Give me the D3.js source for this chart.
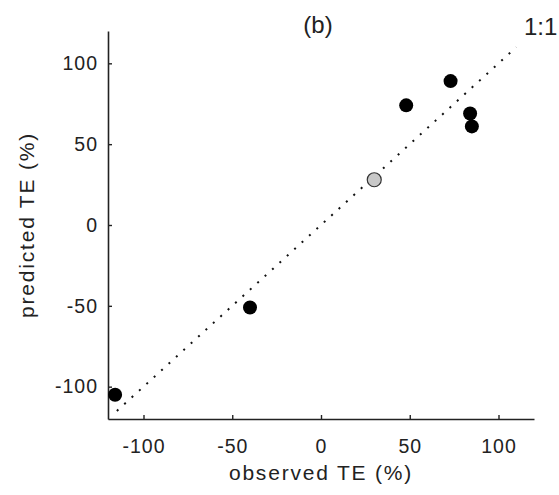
<!DOCTYPE html>
<html lang="en">
  <head>
    <meta charset="utf-8">
    <title>predicted vs observed TE</title>
    <script src="https://cdn.jsdelivr.net/npm/d3@7/dist/d3.min.js"></script>
    <style>
      body { margin: 0; background: #fff; }
      text { font-family: "Liberation Sans", Arial, sans-serif; fill: #222; }
    </style>
  </head>
  <body>
    <div id="chart"></div>
  </body>
</html>

<script>

// observed vs predicted TE (%)
const observed  = [-116, -40, 30, 48, 73, 84, 85];
const predicted = [-105, -51, 28, 74, 89, 69, 61];
const isGray    = [false, false, true, false, false, false, false];
const tickVals  = [-100, -50, 0, 50, 100];
const oneToOne  = [-115, 110];

const width = 559;
const height = 495;
const margin = {top: 31, right: 25, bottom: 76, left: 108};

const svg = d3.select("#chart")
  .append("svg")
  .attr("width", width)
  .attr("height", height);

const x = d3.scaleLinear()
  .domain([-120, 120])
  .range([margin.left, width - margin.right]);

const y = d3.scaleLinear()
  .domain([-120, 120])
  .range([height - margin.bottom, margin.top]);

// plain hyphen for negatives, like the original
const fmt = d => String(d);

// axes (ticks point inward)
const xAxis = svg.append("g")
  .attr("transform", `translate(0, ${y(-120)})`)
  .call(d3.axisBottom(x).tickValues(tickVals).tickFormat(fmt).tickSize(-4).tickPadding(20).tickSizeOuter(0));

const yAxis = svg.append("g")
  .attr("transform", `translate(${x(-120)}, 0)`)
  .call(d3.axisLeft(y).tickValues(tickVals).tickFormat(fmt).tickSize(-4).tickPadding(10).tickSizeOuter(0));

[xAxis, yAxis].forEach(g => {
  g.select(".domain").attr("stroke", "#222").attr("stroke-width", 1.6);
  g.selectAll(".tick line").attr("stroke", "#222").attr("stroke-width", 1.4);
  g.selectAll(".tick text")
    .style("font-size", "19.5px")
    .style("letter-spacing", "1px")
    .attr("fill", "#222");
});

// 1:1 line
svg.append("line")
  .attr("x1", x(oneToOne[0]))
  .attr("y1", y(oneToOne[0]))
  .attr("x2", x(oneToOne[1]))
  .attr("y2", y(oneToOne[1]))
  .attr("stroke", "#111")
  .attr("stroke-width", 2)
  .attr("stroke-dasharray", "2,8");

// points
svg.selectAll(".pt")
  .data(d3.range(observed.length))
  .join("circle")
  .attr("class", "pt")
  .attr("cx", i => x(observed[i]))
  .attr("cy", i => y(predicted[i]))
  .attr("r", 7)
  .attr("fill", i => isGray[i] ? "#c8c8c8" : "#000")
  .attr("stroke", i => isGray[i] ? "#333" : "#000")
  .attr("stroke-width", i => isGray[i] ? 1.2 : 0);

// labels
svg.append("text")
  .attr("x", x(0))
  .attr("y", 480)
  .attr("text-anchor", "middle")
  .style("font-size", "21px")
  .style("letter-spacing", "1.8px")
  .text("observed TE (%)");

svg.append("text")
  .attr("transform", `translate(34, ${y(0)}) rotate(-90)`)
  .attr("text-anchor", "middle")
  .style("font-size", "21px")
  .style("letter-spacing", "1.8px")
  .text("predicted TE (%)");

svg.append("text")
  .attr("x", 318)
  .attr("y", 33)
  .attr("text-anchor", "middle")
  .style("font-size", "24px")
  .text("(b)");

svg.append("text")
  .attr("x", 524)
  .attr("y", 35)
  .style("font-size", "24px")
  .text("1:1");

</script>
